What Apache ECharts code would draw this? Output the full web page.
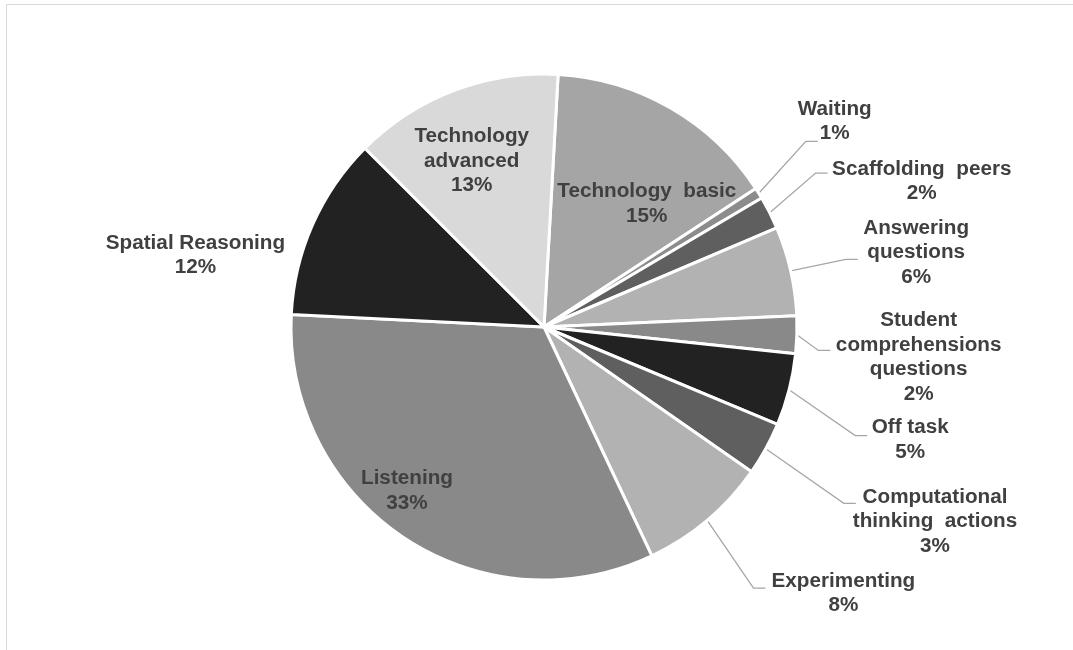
<!DOCTYPE html>
<html>
<head>
<meta charset="utf-8">
<script src="https://cdn.jsdelivr.net/npm/echarts@6/dist/echarts.min.js"></script>
<style>
html,body{margin:0;padding:0;background:#fff;}
#chart{width:1073px;height:650px;}
</style>
</head>
<body>
<div id="chart"></div>
<script>
// ---- data (clockwise from the top) ----
const categories = [
  'Technology basic',
  'Waiting',
  'Scaffolding peers',
  'Answering questions',
  'Student comprehensions questions',
  'Off task',
  'Computational thinking actions',
  'Experimenting',
  'Listening',
  'Spatial Reasoning',
  'Technology advanced'
];
const values = [14.9, 0.7, 2.1, 5.7, 2.4, 4.6, 3.4, 8.3, 32.8, 11.7, 13.4];
// how each label's name is broken into lines
const labelLines = [
  ['Technology  basic'],
  ['Waiting'],
  ['Scaffolding  peers'],
  ['Answering', 'questions'],
  ['Student', 'comprehensions', 'questions'],
  ['Off task'],
  ['Computational', 'thinking  actions'],
  ['Experimenting'],
  ['Listening'],
  ['Spatial Reasoning'],
  ['Technology', 'advanced']
];

// ---- styles ----
const sliceColors = ['#a5a5a5', '#8c8c8c', '#5f5f5f', '#b2b2b2', '#898989', '#222222',
                     '#5f5f5f', '#b2b2b2', '#898989', '#222222', '#d9d9d9'];
const labelPos = ['inside', 'outside', 'outside', 'outside', 'outside', 'outside',
                  'outside', 'outside', 'inside', 'outside', 'inside'];
const lineLen = [0, 66, 61, 56, 21, 76, 97, 81, 0, 5, 0];
// text nudges of each label
const labelShift = [[38, -11], [-32, -37], [-7, -4], [3, -6], [3, 22], [-6, 31],
                    [-13, 26], [-3, 11], [-65, 56], [-8, 33], [-26, -45]];
// where the leader line ends, relative to the label block's left-middle
const lineEndOffset = [null, [20, 20], [-4.5, -8], [-5.5, 7], [-5.5, -7], [-4.5, -4],
                       [3, -18], [-6, -5], null, null, null];

const chart = echarts.init(document.getElementById('chart'), null, {renderer: 'canvas'});

const data = categories.map((name, i) => ({
  name: name,
  value: values[i],
  itemStyle: {color: sliceColors[i]},
  label: {position: labelPos[i]},
  labelLine: {show: lineEndOffset[i] !== null, length: lineLen[i], length2: 12}
}));

chart.setOption({
  animation: false,
  graphic: [{
    type: 'rect',
    shape: {x: 6.5, y: 4.5, width: 1100, height: 700},
    style: {fill: 'none', stroke: '#d9d9d9', lineWidth: 1},
    silent: true
  }],
  series: [{
    type: 'pie',
    center: [544, 327],
    radius: [0, 253],
    startAngle: 86.8,
    clockwise: true,
    avoidLabelOverlap: false,
    itemStyle: {borderColor: '#ffffff', borderWidth: 3},
    label: {
      show: true,
      formatter: function (p) {
        const lines = labelLines[p.dataIndex].concat([Math.round(p.percent) + '%']);
        return lines.map(l => '{t|' + l + '}').join('\n');
      },
      rich: {
        t: {
          fontFamily: 'Liberation Sans, Arial, sans-serif',
          fontWeight: 'bold',
          fontSize: 20.7,
          lineHeight: 24.5,
          color: '#404040',
          align: 'center'
        }
      },
      distanceToLabelLine: 3
    },
    labelLine: {
      lineStyle: {color: '#a6a6a6', width: 1.3},
      smooth: false
    },
    labelLayout: function (params) {
      const i = params.dataIndex;
      const s = labelShift[i];
      const out = {dx: s[0], dy: s[1]};
      const e = lineEndOffset[i];
      const pts = params.labelLinePoints;
      if (e && pts && pts.length) {
        const r = params.labelRect;
        const ex = r.x + s[0] + e[0];
        const ey = r.y + s[1] + r.height / 2 + e[1];
        out.labelLinePoints = [pts[0], [ex - 12, ey], [ex, ey]];
      }
      return out;
    },
    data: data
  }]
});
</script>
</body>
</html>
